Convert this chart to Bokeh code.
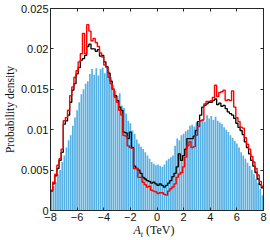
import numpy as np
from bokeh.plotting import figure
from bokeh.models import Range1d, FixedTicker, LinearAxis, Div
from bokeh.layouts import column
from bokeh.embed import file_html
from bokeh.resources import INLINE

# ---- data ----
x_start, x_end, n_bins = -8.0, 8.0, 100

blue = [0.0023, 0.0030, 0.0035, 0.0045, 0.0050, 0.0060, 0.0068, 0.0078, 0.0087, 0.0093,
        0.0105, 0.0115, 0.0124, 0.0134, 0.0144, 0.0150, 0.0157, 0.0160, 0.0169, 0.0175,
        0.0168, 0.0176, 0.0167, 0.0175, 0.0177, 0.0170, 0.0176, 0.0172, 0.0165, 0.0155,
        0.0148, 0.0142, 0.0145, 0.0130, 0.0127, 0.0120, 0.0111, 0.0108, 0.0099, 0.0095,
        0.0088, 0.0083, 0.0079, 0.0076, 0.0072, 0.0068, 0.0064, 0.0060, 0.0058, 0.0056,
        0.0057, 0.0055, 0.0054, 0.0057, 0.0062, 0.0064, 0.0066, 0.0068, 0.0080, 0.0089,
        0.0087, 0.0093, 0.0095, 0.0098, 0.0100, 0.0105, 0.0106, 0.0104, 0.0109, 0.0108,
        0.0111, 0.0113, 0.0110, 0.0118, 0.0114, 0.0117, 0.0112, 0.0116, 0.0111, 0.0109,
        0.0107, 0.0103, 0.0100, 0.0097, 0.0093, 0.0090, 0.0086, 0.0083, 0.0078, 0.0072,
        0.0068, 0.0064, 0.0059, 0.0055, 0.0050, 0.0045, 0.0039, 0.0034, 0.0027, 0.0019]

red = [0.0025, 0.0035, 0.0045, 0.0056, 0.0064, 0.0076, 0.0111, 0.0115, 0.0124, 0.0142,
       0.0153, 0.0165, 0.0173, 0.0184, 0.0194, 0.0219, 0.0194, 0.0230, 0.0222, 0.0210,
       0.0213, 0.0208, 0.0203, 0.0195, 0.0190, 0.0180, 0.0177, 0.0165, 0.0157, 0.0150,
       0.0140, 0.0134, 0.0124, 0.0118, 0.0093, 0.0092, 0.0080, 0.0078, 0.0077, 0.0052,
       0.0052, 0.0041, 0.0041, 0.0035, 0.0032, 0.0029, 0.0030, 0.0025, 0.0024, 0.0023,
       0.0021, 0.0022, 0.0022, 0.0020, 0.0019, 0.0024, 0.0027, 0.0029, 0.0033, 0.0041,
       0.0045, 0.0047, 0.0054, 0.0066, 0.0080, 0.0085, 0.0078, 0.0079, 0.0093, 0.0104,
       0.0111, 0.0112, 0.0132, 0.0135, 0.0135, 0.0136, 0.0140, 0.0155, 0.0141, 0.0146,
       0.0147, 0.0149, 0.0136, 0.0137, 0.0136, 0.0148, 0.0128, 0.0115, 0.0110, 0.0103,
       0.0102, 0.0090, 0.0082, 0.0076, 0.0067, 0.0060, 0.0052, 0.0044, 0.0036, 0.0030]

black = [0.0024, 0.0033, 0.0043, 0.0052, 0.0062, 0.0072, 0.0107, 0.0111, 0.0118, 0.0134,
         0.0149, 0.0157, 0.0169, 0.0177, 0.0186, 0.0188, 0.0192, 0.0203, 0.0206, 0.0200,
         0.0200, 0.0197, 0.0199, 0.0191, 0.0192, 0.0184, 0.0178, 0.0170, 0.0160, 0.0150,
         0.0142, 0.0136, 0.0128, 0.0124, 0.0097, 0.0096, 0.0089, 0.0097, 0.0078, 0.0055,
         0.0052, 0.0050, 0.0046, 0.0041, 0.0039, 0.0037, 0.0036, 0.0034, 0.0035, 0.0033,
         0.0031, 0.0033, 0.0031, 0.0029, 0.0031, 0.0034, 0.0037, 0.0042, 0.0046, 0.0054,
         0.0070, 0.0062, 0.0068, 0.0076, 0.0089, 0.0089, 0.0089, 0.0092, 0.0099, 0.0110,
         0.0118, 0.0128, 0.0130, 0.0132, 0.0134, 0.0134, 0.0136, 0.0138, 0.0131, 0.0133,
         0.0129, 0.0130, 0.0126, 0.0122, 0.0120, 0.0118, 0.0114, 0.0108, 0.0103, 0.0099,
         0.0094, 0.0085, 0.0078, 0.0070, 0.0062, 0.0055, 0.0047, 0.0039, 0.0032, 0.0028]

x_ticks = [-8, -6, -4, -2, 0, 2, 4, 6, 8]
x_tick_labels = ["\u22128", "\u22126", "\u22124", "\u22122", "0", "2", "4", "6", "8"]
y_ticks = [0, 0.005, 0.01, 0.015, 0.02, 0.025]
y_tick_labels = ["0", "0.005", "0.01", "0.015", "0.02", "0.025"]
y_label = "Probability density"
x_label_html = "<i>A</i><sub style='font-size:8px'><i>t</i></sub> (TeV)"

assert len(blue) == len(red) == len(black) == n_bins

edges = np.linspace(x_start, x_end, n_bins + 1)
centers = (edges[:-1] + edges[1:]) / 2
bin_w = edges[1] - edges[0]

AX = "#262626"

p = figure(width=270, height=225, x_range=Range1d(x_start, x_end), y_range=Range1d(0, 0.025),
           output_backend="svg", toolbar_location=None,
           min_border_left=45, min_border_right=7, min_border_top=8, min_border_bottom=15)
p.background_fill_color = "white"
p.border_fill_color = "white"
p.xgrid.visible = False
p.ygrid.visible = False
p.outline_line_color = AX
p.outline_line_width = 1

p.vbar(x=centers, top=blue, width=bin_w * 0.8, bottom=0,
       fill_color="#55B0E4", line_color=None)
p.step(x=edges, y=black + [black[-1]], mode="after", line_color="black", line_width=1.3)
p.step(x=edges, y=red + [red[-1]], mode="after", line_color="#ff0000", line_width=1.4)


def style(ax, ticks, labels, show):
    ax.ticker = FixedTicker(ticks=ticks)
    ax.major_tick_in = 3
    ax.major_tick_out = 0
    ax.minor_tick_in = 0
    ax.minor_tick_out = 0
    ax.axis_line_color = AX
    ax.major_tick_line_color = AX
    ax.major_label_text_font = "Liberation Sans"
    ax.major_label_text_font_size = "11px"
    ax.major_label_text_color = "#111111"
    ax.major_label_standoff = 2
    ax.major_label_overrides = dict(zip(ticks, labels if show else [""] * len(ticks)))


style(p.xaxis[0], x_ticks, x_tick_labels, True)
style(p.yaxis[0], y_ticks, y_tick_labels, True)
top = LinearAxis()
right = LinearAxis()
style(top, x_ticks, x_tick_labels, False)
style(right, y_ticks, y_tick_labels, False)
p.add_layout(top, "above")
p.add_layout(right, "right")

yax = p.yaxis[0]
yax.axis_label = y_label
yax.axis_label_text_font = "Liberation Serif"
yax.axis_label_text_font_style = "normal"
yax.axis_label_text_font_size = "11.5px"
yax.axis_label_text_color = "#111111"
yax.axis_label_standoff = 2

xlab = Div(text=x_label_html, width=218, height=15, margin=(0, 0, 0, 45),
           styles={"text-align": "center", "font-family": "'Liberation Serif', serif",
                   "font-size": "12px", "line-height": "11px", "color": "#111111"})

layout = column(p, xlab, spacing=0)
open("out.html", "w").write(file_html(layout, INLINE))
